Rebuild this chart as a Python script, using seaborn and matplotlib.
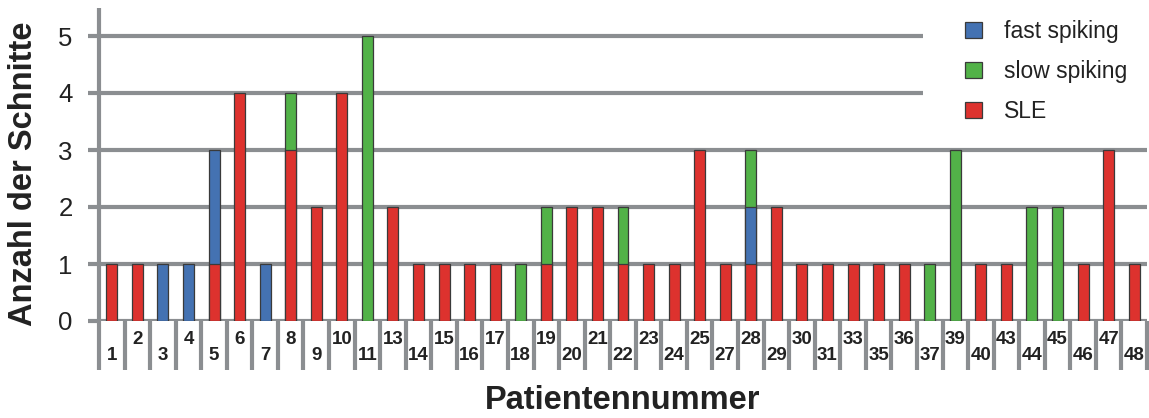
import seaborn as sns
import pandas as pd
import matplotlib.pyplot as plt
from matplotlib.patches import Patch
import numpy as np

sns.set_style('white')
plt.rcParams['font.family'] = ['Liberation Sans', 'DejaVu Sans']

# Patientennummern (Kategorien der x-Achse)
patients = ['1', '2', '3', '4', '5', '6', '7', '8', '9', '10', '11', '13', '14',
            '15', '16', '17', '18', '19', '20', '21', '22', '23', '24', '25', '27',
            '28', '29', '30', '31', '33', '35', '36', '37', '39', '40', '43', '44',
            '45', '46', '47', '48']
# Anzahl der Schnitte je Kategorie
sle  = [1, 1, 0, 0, 1, 4, 0, 3, 2, 4, 0, 2, 1, 1, 1, 1, 0, 1, 2, 2, 1, 1, 1, 3,
        1, 1, 2, 1, 1, 1, 1, 1, 0, 0, 1, 1, 0, 0, 1, 3, 1]
fast = [0, 0, 1, 1, 2, 0, 1, 0, 0, 0, 0, 0, 0, 0, 0, 0, 0, 0, 0, 0, 0, 0, 0, 0,
        0, 1, 0, 0, 0, 0, 0, 0, 0, 0, 0, 0, 0, 0, 0, 0, 0]
slow = [0, 0, 0, 0, 0, 0, 0, 1, 0, 0, 5, 0, 0, 0, 0, 0, 1, 1, 0, 0, 1, 0, 0, 0,
        0, 1, 0, 0, 0, 0, 0, 0, 1, 3, 0, 0, 2, 2, 0, 0, 0]
yticks = [0, 1, 2, 3, 4, 5]

c_fast = '#4472b2'
c_slow = '#52b248'
c_sle = '#dd322e'
c_edge = '#3a3a3a'
c_grid = '#8b8e91'

df = pd.DataFrame({'patient': patients, 'SLE': sle, 'fast': fast, 'slow': slow})
# stacked: SLE unten, fast spiking darüber, slow spiking oben
df['top_slow'] = (df['SLE'] + df['fast'] + df['slow']).where(df['slow'] > 0)
df['top_fast'] = (df['SLE'] + df['fast']).where(df['fast'] > 0)
df['top_sle'] = df['SLE'].where(df['SLE'] > 0).astype(float)

fig = plt.figure(figsize=(11.49, 4.18), dpi=100)
ax = fig.add_axes([99 / 1149, 97 / 418, 1048 / 1149, 313.5 / 418])

for col, c in [('top_slow', c_slow), ('top_fast', c_fast), ('top_sle', c_sle)]:
    sns.barplot(data=df, x='patient', y=col, order=patients, color=c, width=0.43,
                edgecolor=c_edge, linewidth=0.9, saturation=1, errorbar=None,
                ax=ax, zorder=3)

ax.set_xlim(-0.5, len(patients) - 0.5)
ax.set_ylim(0, 5.5)
ax.set_yticks(yticks)
for s in ax.spines.values():
    s.set_visible(False)

# horizontale Linien
for y in yticks:
    xmax = 0.786 if y >= 4 else 1
    ax.axhline(y, xmax=xmax, color=c_grid, lw=3, zorder=1, solid_capstyle='butt')

# y-Achse und Trennlinien unter der x-Achse
ax.vlines(-0.5, -0.86, 5.5, color=c_grid, lw=3, clip_on=False, zorder=1)
ax.vlines(np.arange(0.5, len(patients)), -0.86, 0, color=c_grid, lw=3,
          clip_on=False, zorder=1)

ax.tick_params(axis='y', length=8, width=3, color=c_grid, pad=11,
               labelsize=18.5, labelcolor='#222222', left=True)
ax.tick_params(axis='x', length=0, labelsize=13.5, labelcolor='#222222')
for lab in ax.get_xticklabels():
    lab.set_fontweight('bold')

ax.set_ylabel('Anzahl der Schnitte', fontsize=23.5, fontweight='bold', color='#222222')
ax.yaxis.set_label_coords(-0.057, 0.47)
ax.set_xlabel('Patientennummer', fontsize=23.5, fontweight='bold', color='#222222')
ax.xaxis.set_label_coords(0.5, -0.205)

handles = [Patch(facecolor=c_fast, edgecolor=c_edge, lw=0.9, label='fast spiking'),
           Patch(facecolor=c_slow, edgecolor=c_edge, lw=0.9, label='slow spiking'),
           Patch(facecolor=c_sle, edgecolor=c_edge, lw=0.9, label='SLE')]
fig.legend(handles=handles, loc='upper left', bbox_to_anchor=(965 / 1149, 1 - 20 / 418),
           frameon=False, fontsize=16.5, handlelength=0.74, handleheight=0.74,
           handletextpad=0.95, labelspacing=0.74, borderpad=0, borderaxespad=0,
           labelcolor='#222222')

# versetzte Beschriftung der x-Achse
for i, tick in enumerate(ax.xaxis.get_major_ticks()):
    tick.set_pad(18.5 if i % 2 == 0 else 7)

fig.savefig('out.png', dpi=100)
